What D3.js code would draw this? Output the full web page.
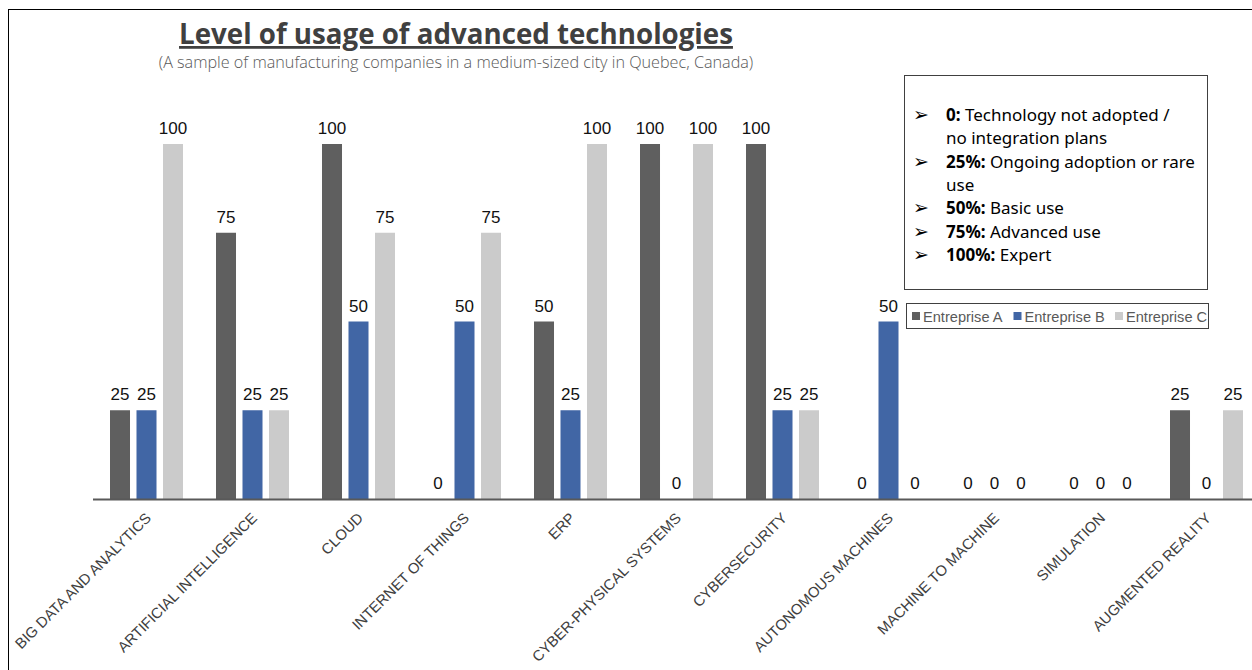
<!DOCTYPE html>
<html>
<head>
<meta charset="utf-8">
<script src="https://cdn.jsdelivr.net/npm/d3@7"></script>
<style>
  html, body { margin: 0; padding: 0; background: #fff; }
  svg { display: block; }
</style>
</head>
<body>
<svg id="chart" width="1252" height="670"></svg>
<script>
// Technologies on the category axis
const categories = [
  "BIG DATA AND ANALYTICS", "ARTIFICIAL INTELLIGENCE", "CLOUD", "INTERNET OF THINGS",
  "ERP", "CYBER-PHYSICAL SYSTEMS", "CYBERSECURITY", "AUTONOMOUS MACHINES",
  "MACHINE TO MACHINE", "SIMULATION", "AUGMENTED REALITY"
];
const seriesNames = ["Entreprise A", "Entreprise B", "Entreprise C"];
const entrepriseA = [25, 75, 100, 0, 50, 100, 100, 0, 0, 0, 25];
const entrepriseB = [25, 25, 50, 50, 25, 0, 25, 50, 0, 0, 0];
const entrepriseC = [100, 25, 75, 75, 100, 100, 25, 0, 0, 0, 25];
const seriesColors = ["#5f5f5f", "#4166a5", "#cbcbcb"];

// Scale description shown in the boxed note
const scaleNotes = [
  { key: "0:", text: "Technology not adopted /", cont: "no integration plans" },
  { key: "25%:", text: "Ongoing adoption or rare", cont: "use" },
  { key: "50%:", text: "Basic use" },
  { key: "75%:", text: "Advanced use" },
  { key: "100%:", text: "Expert" }
];

const seriesValues = [entrepriseA, entrepriseB, entrepriseC];
const rows = categories.map((c, i) => ({
  cat: c,
  vals: seriesNames.map((s, j) => ({ series: s, value: seriesValues[j][i], color: seriesColors[j] }))
}));

const svg = d3.select("#chart");

// outer frame
svg.append("rect")
  .attr("x", 8.5).attr("y", 9.5).attr("width", 1260).attr("height", 680)
  .attr("fill", "none").attr("stroke", "#000").attr("stroke-width", 1);

const x0 = d3.scaleBand().domain(categories).range([93, 1259]).paddingInner(0).paddingOuter(0);
const x1 = d3.scaleBand().domain(seriesNames).range([17, 90]).paddingInner(0.245).paddingOuter(0);
const y = d3.scaleLinear().domain([0, 100]).range([499, 144]);

const labelFont = "'Liberation Sans', Arial, sans-serif";

// bars
const groups = svg.append("g").selectAll("g")
  .data(rows).join("g")
  .attr("transform", d => `translate(${x0(d.cat)},0)`);

groups.selectAll("rect")
  .data(d => d.vals).join("rect")
  .attr("x", d => x1(d.series))
  .attr("width", x1.bandwidth())
  .attr("y", d => y(d.value))
  .attr("height", d => y(0) - y(d.value))
  .attr("fill", d => d.color);

// value labels
groups.selectAll("text")
  .data(d => d.vals).join("text")
  .attr("x", d => x1(d.series) + x1.bandwidth() / 2)
  .attr("y", d => y(d.value) - 10)
  .attr("text-anchor", "middle")
  .attr("font-family", labelFont)
  .attr("font-size", 17)
  .attr("fill", "#111")
  .text(d => d.value);

// category axis
const xAxis = svg.append("g")
  .attr("transform", `translate(0,${y(0)})`)
  .call(d3.axisBottom(x0).tickSize(0).tickPadding(0));
xAxis.select(".domain").attr("stroke", "#595959").attr("stroke-width", 2)
  .attr("d", "M93,0.5H1252");
xAxis.selectAll(".tick text")
  .attr("font-family", labelFont)
  .attr("font-size", 14.8)
  .attr("fill", "#404040")
  .attr("text-anchor", "end")
  .attr("dy", "0")
  .attr("transform", "translate(6,20) rotate(-45)");

// title and subtitle
svg.append("text")
  .attr("x", 456).attr("y", 44)
  .attr("text-anchor", "middle")
  .attr("font-family", "'Open Sans', sans-serif")
  .attr("font-weight", 700)
  .attr("font-size", 27.7)
  .attr("fill", "#404040")
  .attr("text-decoration", "underline")
  .text("Level of usage of advanced technologies");

svg.append("text")
  .attr("x", 456).attr("y", 68)
  .attr("text-anchor", "middle")
  .attr("font-family", "'Open Sans', sans-serif")
  .attr("font-weight", 300)
  .attr("font-size", 16.2)
  .attr("fill", "#595959")
  .text("(A sample of manufacturing companies in a medium-sized city in Quebec, Canada)");

// boxed note about the scale
const note = svg.append("g");
note.append("rect")
  .attr("x", 904.5).attr("y", 75.5).attr("width", 303).attr("height", 214)
  .attr("fill", "#fff").attr("stroke", "#404040").attr("stroke-width", 1);

const noteFont = "'Noto Sans', sans-serif";
let lineY = 121;
const lh = 23.3;
scaleNotes.forEach(n => {
  note.append("text")
    .attr("x", 913).attr("y", lineY)
    .attr("font-family", "'DejaVu Sans', sans-serif")
    .attr("font-size", 19)
    .attr("fill", "#000")
    .text("\u27A2");
  const t = note.append("text")
    .attr("x", 946).attr("y", lineY)
    .attr("font-family", noteFont)
    .attr("font-size", 17)
    .attr("fill", "#000");
  t.append("tspan").attr("font-weight", 700).text(n.key);
  t.append("tspan").text(" " + n.text);
  lineY += lh;
  if (n.cont) {
    note.append("text")
      .attr("x", 946).attr("y", lineY)
      .attr("font-family", noteFont)
      .attr("font-size", 17)
      .attr("fill", "#000")
      .text(n.cont);
    lineY += lh;
  }
});

// series legend
const leg = svg.append("g");
leg.append("rect")
  .attr("x", 906.5).attr("y", 303.5).attr("width", 302).attr("height", 25)
  .attr("fill", "#fff").attr("stroke", "#404040").attr("stroke-width", 1);
const legX = d3.scalePoint().domain(seriesNames).range([912, 1115]);
const items = leg.selectAll("g").data(seriesNames).join("g")
  .attr("transform", d => `translate(${legX(d)},316)`);
items.append("rect")
  .attr("x", 0).attr("y", -4).attr("width", 8).attr("height", 8)
  .attr("fill", (d, i) => seriesColors[i]);
items.append("text")
  .attr("x", 11).attr("y", 5.5)
  .attr("font-family", labelFont)
  .attr("font-size", 14.6)
  .attr("fill", "#595959")
  .text(d => d);
</script>
</body>
</html>
